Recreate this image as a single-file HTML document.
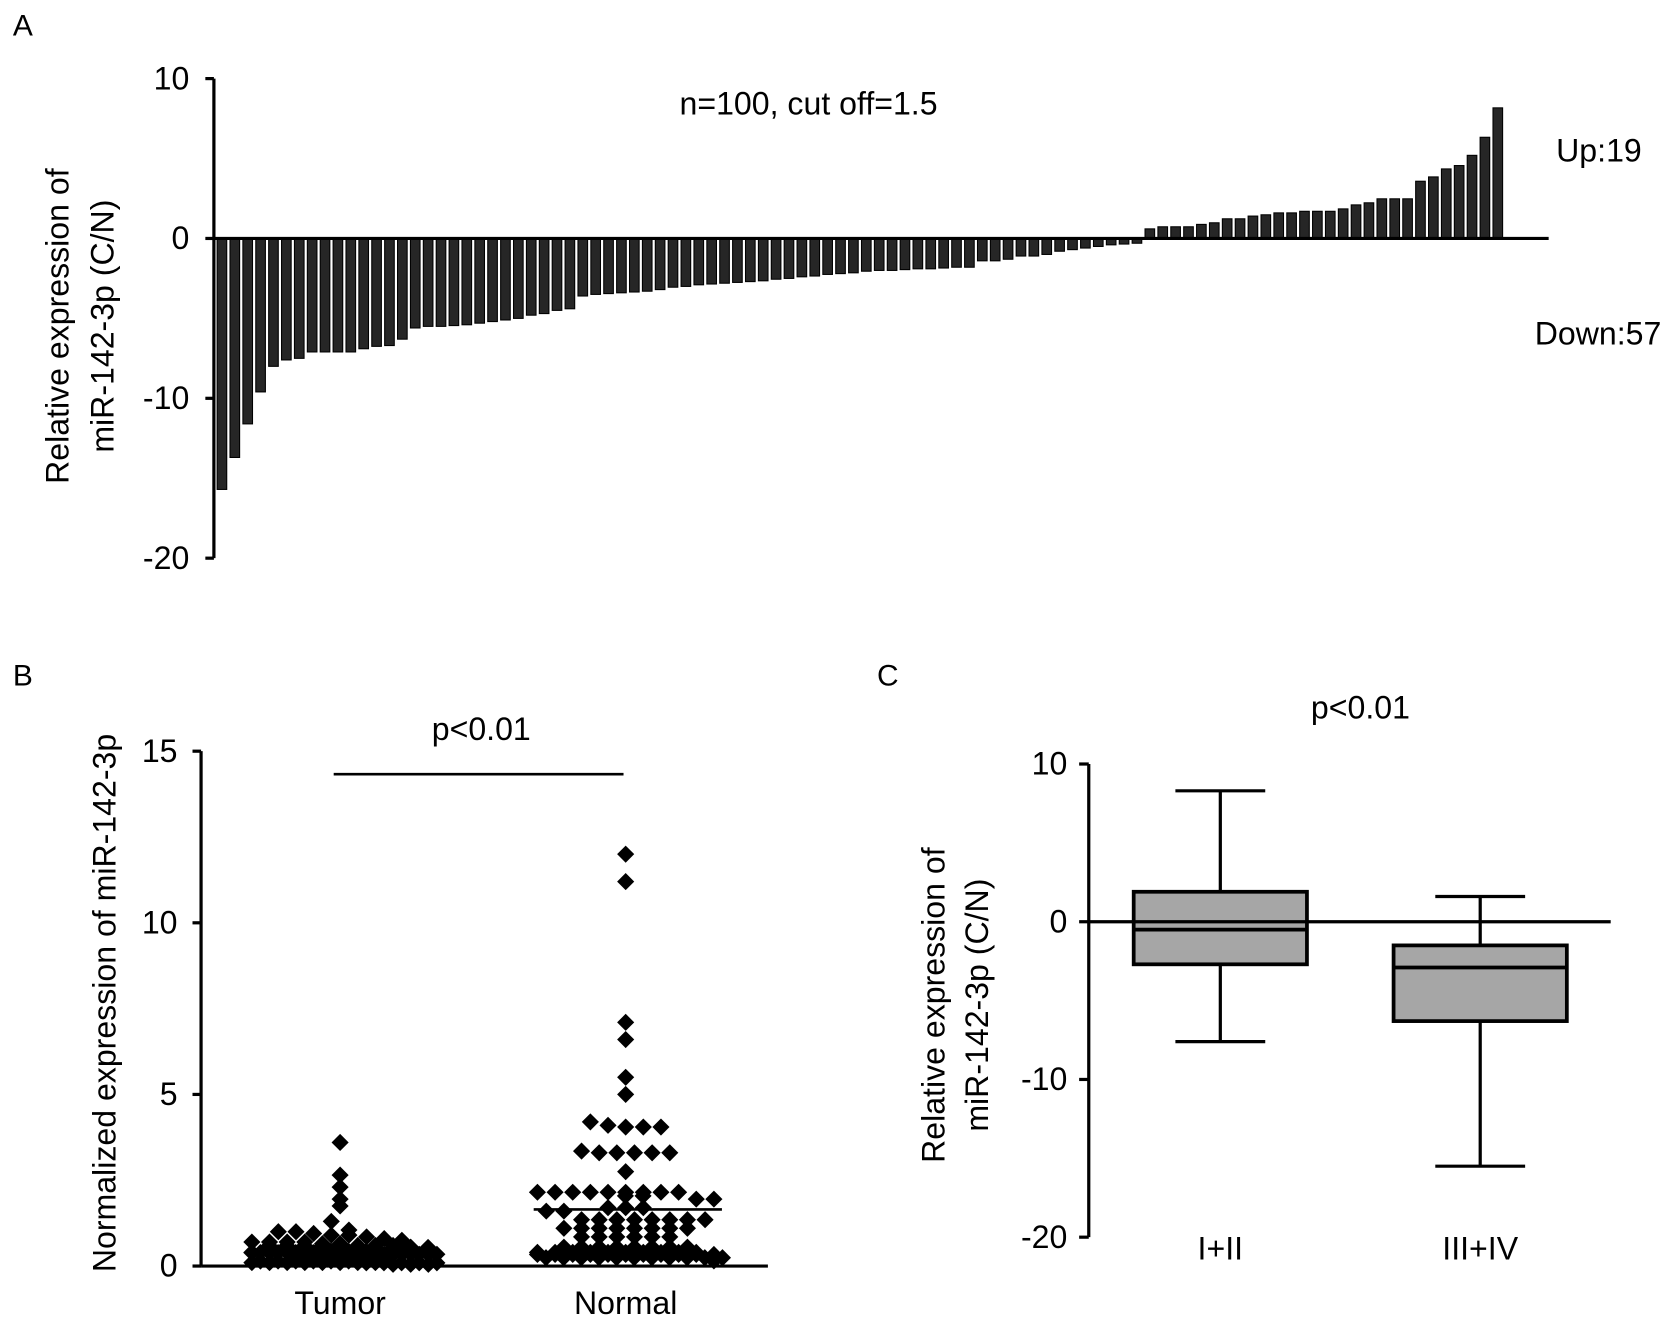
<!DOCTYPE html>
<html><head><meta charset="utf-8"><style>
html,body{margin:0;padding:0;background:#fff;}
svg{display:block;font-family:"Liberation Sans",Arial,sans-serif;}
</style></head><body>
<svg id="fig" xmlns="http://www.w3.org/2000/svg" width="1677" height="1327" viewBox="0 0 1568 1241" preserveAspectRatio="none">
<rect width="1568" height="1241" fill="#fff"/>
<g id="pa"></g>
<g id="pb"></g>
<g id="pc"></g>
</svg>
<script>
// Panel A data
const aValues = [-15.7,-13.7,-11.6,-9.6,-8.0,-7.6,-7.5,-7.1,-7.1,-7.1,-7.1,-6.9,-6.75,-6.7,-6.3,-5.6,-5.5,-5.5,-5.45,-5.4,-5.3,-5.2,-5.1,-5.0,-4.8,-4.7,-4.5,-4.4,-3.6,-3.5,
-3.45,-3.4,-3.35,-3.3,-3.2,-3.05,-3.0,-2.9,-2.85,-2.8,-2.75,-2.7,-2.65,-2.55,-2.5,-2.4,-2.35,-2.25,-2.2,-2.15,-2.05,-2.0,-2.0,-1.95,-1.9,-1.9,-1.85,-1.8,-1.8,-1.4,-1.4,-1.3,-1.1,-1.1,-1.0,-0.8,-0.7,-0.6,-0.5,-0.4,-0.35,-0.3,
0.6,0.73,0.73,0.73,0.88,0.98,1.23,1.23,1.4,1.48,1.6,1.6,1.7,1.7,1.7,1.85,2.1,2.23,2.48,2.48,2.48,3.58,3.85,4.35,4.56,5.2,6.33,8.17];
const aTicks = [10,0,-10,-20];
// Panel B data
const bCategories = ["Tumor","Normal"];
const tumorValues = [3.6,2.65,2.3,1.95,1.75,1.3,1.05,1.0,1.0,0.95,0.9,0.9,0.85,0.8,0.75,0.7,0.7,0.7,0.7,0.65,0.65,0.6,0.6,0.6,
0.55,0.5,0.5,0.5,0.5,0.5,0.5,0.45,0.45,0.45,0.45,0.45,0.4,0.4,0.4,0.4,0.4,0.35,0.35,0.35,0.35,0.35,0.35,0.3,0.3,0.3,
0.3,0.3,0.3,0.25,0.25,0.25,0.25,0.25,0.2,0.2,0.2,0.2,0.2,0.2,0.2,0.15,0.15,0.15,0.15,0.15,0.15,0.15,0.1,0.1,0.1,
0.1,0.1,0.1,0.1,0.1,0.05,0.05,0.05,0.05,0.05,0.05,0.05,0.05,0.05,0.0,0.0,0.0,0.0,0.0,0.0,0.0,0.0,0.0,0.0,0.0];
const normalValues = [12.0,11.2,7.1,6.6,5.5,5.0,4.2,4.1,4.05,4.05,4.05,3.35,3.3,3.3,3.3,3.3,3.3,2.75,2.15,2.15,2.15,2.15,2.15,2.15,2.15,2.15,2.15,
1.95,1.95,1.95,1.95,1.7,1.7,1.7,1.6,1.6,1.35,1.35,1.35,1.35,1.35,1.35,1.35,1.35,1.1,1.1,1.1,1.1,1.1,1.1,1.1,1.1,
0.85,0.85,0.85,0.85,0.85,0.85,0.55,0.55,0.55,0.55,0.55,0.55,0.55,0.55,0.4,0.4,0.4,0.4,0.4,0.4,0.4,0.4,0.4,0.4,
0.15,0.15,0.15,0.15,0.15,0.15,0.15,0.15,0.15,0.15,0.15,0.15,0.15,0.15,0.15,0.15,0.15,0.15,0.15,0.15,0.15,0.15,0.15,0.15];
const bMeans = [0.45,1.65];
const bTicks = [15,10,5,0];
// Panel C data
const cCategories = ["I+II","III+IV"];
const cMax = [8.3,1.6];
const cQ3 = [1.9,-1.5];
const cMedian = [-0.5,-2.9];
const cQ1 = [-2.7,-6.3];
const cMin = [-7.6,-15.5];
const cTicks = [10,0,-10,-20];

const FS=30;
const NS="http://www.w3.org/2000/svg";
function mk(parent,tag,attrs,text){const e=document.createElementNS(NS,tag);for(const k in attrs)e.setAttribute(k,attrs[k]);if(text!==undefined)e.textContent=text;parent.appendChild(e);return e;}

// ---------- Panel A ----------
const pa=document.getElementById('pa');
const ayA=v=>223-v*14.95;
const axA=i=>203+i*12.05;
let t=mk(pa,'text',{x:12,y:33,'font-size':FS-2},'A');


t=mk(pa,'line',{x1:200,y1:ayA(10),x2:200,y2:ayA(-20),stroke:'#000','stroke-width':3});


aTicks.forEach(v=>{
  let l=mk(pa,'line',{x1:192,y1:ayA(v),x2:200,y2:ayA(v),stroke:'#000','stroke-width':3});
  
  
  let tx=mk(pa,'text',{x:177,y:ayA(v)+10,'font-size':FS,'text-anchor':'end'},String(v));
  
  
});
aValues.forEach((v,i)=>{
  const y0=ayA(0),y1=ayA(v);
  let r=mk(pa,'rect',{x:axA(i),y:Math.min(y0,y1),width:9,height:Math.abs(y1-y0),fill:'#262626',stroke:'#000','stroke-width':1});
  
  
});
t=mk(pa,'line',{x1:200,y1:ayA(0),x2:1448,y2:ayA(0),stroke:'#000','stroke-width':3});


t=mk(pa,'text',{x:756,y:107,'font-size':FS,'text-anchor':'middle'},'n=100, cut off=1.5');


t=mk(pa,'text',{x:1455,y:151,'font-size':FS},'Up:19');


t=mk(pa,'text',{x:1435,y:322,'font-size':FS},'Down:57');


t=mk(pa,'text',{transform:'translate(64,305) rotate(-90)','font-size':FS,'text-anchor':'middle'},'Relative expression of');


t=mk(pa,'text',{transform:'translate(106,305) rotate(-90)','font-size':FS,'text-anchor':'middle'},'miR-142-3p (C/N)');



// ---------- Panel B ----------
const pb=document.getElementById('pb');
const ayB=v=>1184-v*32.1;
const bCenters=[318,585];
t=mk(pb,'text',{x:12,y:641,'font-size':FS-2},'B');


t=mk(pb,'line',{x1:188,y1:ayB(15),x2:188,y2:ayB(0),stroke:'#000','stroke-width':3});


t=mk(pb,'line',{x1:188,y1:ayB(0),x2:718,y2:ayB(0),stroke:'#000','stroke-width':3});


bTicks.forEach(v=>{
  let l=mk(pb,'line',{x1:180,y1:ayB(v),x2:188,y2:ayB(v),stroke:'#000','stroke-width':3});
  
  
  let tx=mk(pb,'text',{x:166,y:ayB(v)+10,'font-size':FS,'text-anchor':'end'},String(v));
  
  
});
function swarm(vals,cx,name){
  const rows={};
  vals.forEach(v=>{
    const r=Math.round(v/0.3);
    rows[r]=rows[r]||[];
    rows[r].push(v);
  });
  Object.keys(rows).forEach(r=>{
    const list=rows[r];
    const n=list.length;
    const perLine=11;
    list.forEach((v,k)=>{
      const slot=k%perLine, layer=Math.floor(k/perLine);
      const cnt=Math.min(perLine,n-layer*perLine);
      const off=(slot-(cnt-1)/2)*16.5+(layer%2?8:0);
      const x=cx+off, y=ayB(v)+(layer? -layer*3:0);
      let d=mk(pb,'path',{d:`M${x},${y-8}L${x+8},${y}L${x},${y+8}L${x-8},${y}Z`,fill:'#000'});
      
      
    });
  });
}
swarm(tumorValues,bCenters[0],'tumor-point');
swarm(normalValues,bCenters[1],'normal-point');
bMeans.forEach((m,i)=>{
  let l=mk(pb,'line',{x1:bCenters[i]-86,y1:ayB(m),x2:bCenters[i]+90,y2:ayB(m),stroke:'#000','stroke-width':2.5});
  
  
});
bCategories.forEach((c,i)=>{
  let tx=mk(pb,'text',{x:bCenters[i],y:1229,'font-size':FS,'text-anchor':'middle'},c);
  
  
});
t=mk(pb,'line',{x1:312,y1:724,x2:583,y2:724,stroke:'#000','stroke-width':2.5});


t=mk(pb,'text',{x:450,y:692,'font-size':FS,'text-anchor':'middle'},'p<0.01');


t=mk(pb,'text',{transform:'translate(108,938) rotate(-90)','font-size':FS,'text-anchor':'middle'},'Normalized expression of miR-142-3p');



// ---------- Panel C ----------
const pc=document.getElementById('pc');
const ayC=v=>862-v*14.75;
const cCenters=[1141,1384];
t=mk(pc,'text',{x:820,y:641,'font-size':FS-2},'C');


t=mk(pc,'line',{x1:1018,y1:ayC(10),x2:1018,y2:ayC(-20),stroke:'#000','stroke-width':3});


cTicks.forEach(v=>{
  let l=mk(pc,'line',{x1:1009,y1:ayC(v),x2:1018,y2:ayC(v),stroke:'#000','stroke-width':3});
  
  
  let tx=mk(pc,'text',{x:998,y:ayC(v)+10,'font-size':FS,'text-anchor':'end'},String(v));
  
  
});
cCategories.forEach((c,i)=>{
  const cx=cCenters[i];
  let w=mk(pc,'line',{x1:cx,y1:ayC(cMax[i]),x2:cx,y2:ayC(cMin[i]),stroke:'#000','stroke-width':3});
  
  
  [cMax[i],cMin[i]].forEach(v=>{
    let cap=mk(pc,'line',{x1:cx-42,y1:ayC(v),x2:cx+42,y2:ayC(v),stroke:'#000','stroke-width':3});
    
    
  });
  let b=mk(pc,'rect',{x:cx-81,y:ayC(cQ3[i]),width:162,height:ayC(cQ1[i])-ayC(cQ3[i]),fill:'#a6a6a6',stroke:'#000','stroke-width':3.5});
  
  
  let m=mk(pc,'line',{x1:cx-81,y1:ayC(cMedian[i]),x2:cx+81,y2:ayC(cMedian[i]),stroke:'#000','stroke-width':3.5});
  
  
  let tx=mk(pc,'text',{x:cx,y:1178,'font-size':FS,'text-anchor':'middle'},c);
  
  
});
t=mk(pc,'line',{x1:1018,y1:ayC(0),x2:1506,y2:ayC(0),stroke:'#000','stroke-width':3});


t=mk(pc,'text',{x:1272,y:672,'font-size':FS,'text-anchor':'middle'},'p<0.01');


t=mk(pc,'text',{transform:'translate(883,940) rotate(-90)','font-size':FS,'text-anchor':'middle'},'Relative expression of');


t=mk(pc,'text',{transform:'translate(924,940) rotate(-90)','font-size':FS,'text-anchor':'middle'},'miR-142-3p (C/N)');


</script>
</body></html>
